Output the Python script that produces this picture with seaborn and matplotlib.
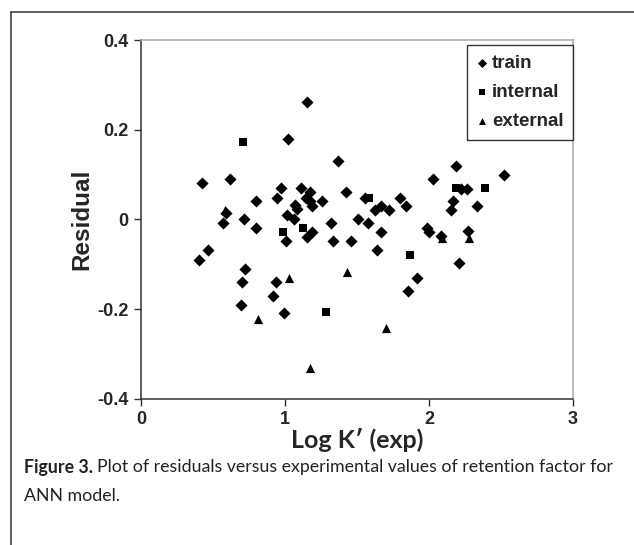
import seaborn as sns
import matplotlib.pyplot as plt
import matplotlib.lines as mlines
import pandas as pd

# values
train_x = [0.405, 0.424, 0.468, 0.567, 0.59, 0.62, 0.694, 0.704, 0.713, 0.722,
           0.80, 0.80, 0.919, 0.9375, 0.942, 0.972, 0.993, 1.009, 1.016, 1.02,
           1.0625, 1.069, 1.085, 1.109, 1.146, 1.155, 1.155, 1.174, 1.174, 1.19,
           1.19, 1.255, 1.317, 1.336, 1.37, 1.426, 1.46, 1.507, 1.556, 1.578,
           1.625, 1.64, 1.67, 1.67, 1.72, 1.80, 1.84, 1.856, 1.92, 1.984,
           2.0, 2.03, 2.08, 2.155, 2.167, 2.185, 2.21, 2.22, 2.266, 2.273,
           2.335, 2.523]
train_y = [-0.090, 0.081, -0.069, -0.008, 0.015, 0.090, -0.191, -0.139, 0.0, -0.110,
           0.041, -0.020, -0.171, -0.139, 0.049, 0.071, -0.209, -0.048, 0.010, 0.179,
           0.0, 0.032, 0.023, 0.071, 0.049, 0.261, -0.040, 0.062, 0.042, 0.029,
           -0.027, 0.042, -0.007, -0.048, 0.130, 0.061, -0.048, 0.0, 0.049, -0.007,
           0.021, -0.069, 0.030, -0.027, 0.021, 0.049, 0.029, -0.159, -0.130, -0.020,
           -0.027, 0.090, -0.036, 0.021, 0.042, 0.119, -0.098, 0.069, 0.069, -0.026,
           0.029, 0.099]

internal_x = [0.71, 0.988, 1.123, 1.287, 1.58, 1.87, 2.185, 2.389]
internal_y = [0.172, -0.027, -0.018, -0.207, 0.049, -0.079, 0.071, 0.071]

external_x = [0.58, 0.81, 1.028, 1.174, 1.433, 1.70, 2.088, 2.278]
external_y = [0.022, -0.221, -0.130, -0.332, -0.118, -0.241, -0.042, -0.042]

x_ticks = [0, 1, 2, 3]
y_ticks = [-0.4, -0.2, 0, 0.2, 0.4]
y_tick_labels = ['-0.4', '-0.2', '0', '0.2', '0.4']

train = pd.DataFrame({'x': train_x, 'y': train_y})
internal = pd.DataFrame({'x': internal_x, 'y': internal_y})
external = pd.DataFrame({'x': external_x, 'y': external_y})

sns.set_style('white')
plt.rcParams['font.family'] = ['Liberation Sans', 'DejaVu Sans']

fig = plt.figure(figsize=(6.34, 5.45), dpi=100)
ax = fig.add_axes([0.2224, 0.2679, 0.6814, 0.6587])

sns.scatterplot(data=train, x='x', y='y', marker='D', s=38, color='black',
                edgecolor='black', linewidth=0, label='train', ax=ax)
sns.scatterplot(data=internal, x='x', y='y', marker='s', s=32, color='black',
                edgecolor='black', linewidth=0, label='internal', ax=ax)
sns.scatterplot(data=external, x='x', y='y', marker='^', s=44, color='black',
                edgecolor='black', linewidth=0, label='external', ax=ax)

ax.set_xlim(0, 3)
ax.set_ylim(-0.4, 0.4)
ax.set_xticks(x_ticks)
ax.set_xticklabels([str(t) for t in x_ticks], fontsize=13, fontweight='bold')
ax.set_yticks(y_ticks)
ax.set_yticklabels(y_tick_labels, fontsize=13, fontweight='bold')
ax.tick_params(axis='both', direction='out', length=5, width=1, color='#333333',
               bottom=True, left=True, pad=4)

for side in ['left', 'bottom']:
    ax.spines[side].set_color('#333333')
    ax.spines[side].set_linewidth(1.1)
for side in ['top', 'right']:
    ax.spines[side].set_color('#a8a8a8')
    ax.spines[side].set_linewidth(1.1)

ax.set_ylabel('Residual', fontsize=17.5, fontweight='bold', labelpad=3)
ax.set_xlabel('Log K\u2032 (exp)', fontsize=18, fontweight='bold', labelpad=0,
              family=['Lato', 'DejaVu Sans'])

leg = ax.legend(loc='upper right', bbox_to_anchor=(1.0, 0.986), borderaxespad=0,
                frameon=True, fancybox=False, handletextpad=0.25, handlelength=0.6,
                labelspacing=0.65, borderpad=0.5, markerscale=0.75,
                prop={'weight': 'bold', 'size': 13.5})
leg.get_frame().set_edgecolor('black')
leg.get_frame().set_linewidth(1.0)

# page frame lines
fig.add_artist(mlines.Line2D([11 / 634, 11 / 634], [0, 1 - 12 / 545],
                             transform=fig.transFigure, color='#444444', lw=1.2))
fig.add_artist(mlines.Line2D([11 / 634, 1], [1 - 12 / 545, 1 - 12 / 545],
                             transform=fig.transFigure, color='#444444', lw=1.2))

# caption
cap_font = ['Lato', 'DejaVu Sans']
t1 = fig.text(24 / 634, 1 - 467 / 545, 'Figure 3.', fontsize=12.8, fontweight='bold',
              family=cap_font, color='#222222', va='center')
fig.canvas.draw()
bb = t1.get_window_extent()
fig.text((bb.x1 + 4) / 634, 1 - 467 / 545,
         'Plot of residuals versus experimental values of retention factor for',
         fontsize=12.8, family=cap_font, color='#222222', va='center')
fig.text(24 / 634, 1 - 496 / 545, 'ANN model.', fontsize=12.8, family=cap_font,
         color='#222222', va='center')

fig.savefig('out.png', dpi=100)
